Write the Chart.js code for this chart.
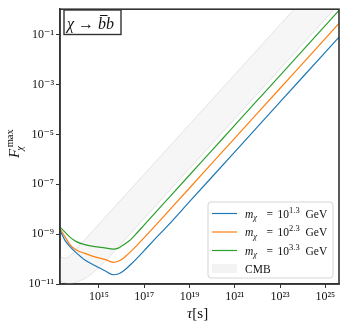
<!DOCTYPE html>
<html><head><meta charset="utf-8">
<script src="https://cdn.jsdelivr.net/npm/chart.js@4/dist/chart.umd.min.js"></script>
<style>html,body{margin:0;padding:0;background:#fff}</style>
</head><body>
<canvas id="c" width="345" height="326" style="width:345px;height:326px;display:block"></canvas>
<script>
// ---- data (log10 values) ----
const logTau = [13.28,13.5,13.72,14.0,14.38,14.82,15.26,15.63,15.85,16.0,16.2,16.4,16.6,17.0,17.5,18,19,20,21,22,23,24,25,25.6];
const logF_m13 = [-8.85,-9.25,-9.5,-9.75,-10.04,-10.26,-10.47,-10.63,-10.6,-10.53,-10.39,-10.22,-10.04,-9.66,-9.17,-8.7,-7.7,-6.7,-5.7,-4.7,-3.7,-2.7,-1.7,-1.1];
const logF_m23 = [-8.79,-9.1,-9.42,-9.64,-9.77,-9.91,-10.01,-10.13,-10.09,-10.02,-9.87,-9.7,-9.52,-9.14,-8.65,-8.15,-7.15,-6.15,-5.15,-4.15,-3.15,-2.15,-1.15,-0.55];
const logF_m33 = [-8.72,-8.92,-9.12,-9.3,-9.42,-9.5,-9.55,-9.6,-9.56,-9.48,-9.36,-9.22,-9.03,-8.63,-8.13,-7.63,-6.63,-5.63,-4.63,-3.63,-2.63,-1.63,-0.63,-0.03];
const massExps = ['1.3','2.3','3.3'];
const seriesColors = ['#1f77b4','#ff7f0e','#2ca02c'];

const cmbLogTau = [13.28,13.5,13.65,13.8,14.0,14.38,14.82,15.26,15.63,16,17,18,19,20,21,22,23,23.6,24,25,25.37,25.6];
const cmbUpper  = [-9.93,-9.96,-9.93,-9.8,-9.6,-9.22,-8.78,-8.34,-7.97,-7.6,-6.6,-5.6,-4.6,-3.6,-2.6,-1.6,-0.6,0,0.4,1.4,1.77,2.0];
const cmbLower  = [-10.88,-10.95,-10.98,-10.97,-10.92,-10.78,-10.48,-10.11,-9.74,-9.37,-8.37,-7.37,-6.37,-5.37,-4.37,-3.37,-2.37,-1.77,-1.37,-0.37,0,0.23];

const xTickExps = [15,17,19,21,23,25];
const yTickExps = [-11,-9,-7,-5,-3,-1];
const xRange = [13.28, 25.6];
const yRange = [-11, 0.02];

// ---- helpers ----
const FAM = "'Liberation Serif','DejaVu Serif',serif";
const SUP = {'0':'⁰','1':'¹','2':'²','3':'³','4':'⁴','5':'⁵','6':'⁶','7':'⁷','8':'⁸','9':'⁹','-':'⁻'};
const sup = s => String(s).split('').map(c => SUP[c] || c).join('');
const pts = (xs, ys) => xs.map((x, i) => ({x: Math.pow(10, x), y: Math.pow(10, ys[i])}));

function drawRuns(ctx, x, y, list) {
  for (const r of list) {
    ctx.font = (r.it ? 'italic ' : '') + r.size + 'px ' + FAM;
    const px = (r.x !== undefined) ? r.x : x;
    ctx.fillText(r.t, px, y + (r.dy || 0));
    x = px + ctx.measureText(r.t).width;
  }
  return x;
}

const series = [logF_m13, logF_m23, logF_m33];
const datasets = series.map((s, i) => ({
  label: 'm = 10^' + massExps[i] + ' GeV',
  data: pts(logTau, s),
  borderColor: seriesColors[i],
  borderWidth: 1.2,
  pointRadius: 0,
  fill: false,
  cubicInterpolationMode: 'monotone'
}));
datasets.push({
  label: 'CMB upper',
  data: pts(cmbLogTau, cmbUpper),
  borderColor: '#e3e3e3', borderWidth: 1, pointRadius: 0, fill: false,
  cubicInterpolationMode: 'monotone'
});
datasets.push({
  label: 'CMB',
  data: pts(cmbLogTau, cmbLower),
  borderColor: '#e3e3e3', borderWidth: 1, pointRadius: 0,
  backgroundColor: '#f6f6f6', fill: '-1',
  cubicInterpolationMode: 'monotone'
});

const decor = {
  id: 'decor',
  afterDraw(chart) {
    const ctx = chart.ctx, a = chart.chartArea;
    ctx.save();
    // frame
    ctx.strokeStyle = '#333'; ctx.lineWidth = 1.6;
    ctx.strokeRect(a.left, a.top, a.right - a.left, a.bottom - a.top);
    ctx.fillStyle = '#111';
    ctx.textBaseline = 'alphabetic';
    ctx.textAlign = 'left';
    // x title: tau [s]
    drawRuns(ctx, 187, 318, [{t:'τ', it:true, size:15}, {t:'[s]', size:15}]);
    // y title: F_chi^max (rotated)
    ctx.save();
    ctx.translate(19, 158);
    ctx.rotate(-Math.PI / 2);
    ctx.font = 'italic 15px ' + FAM;
    const wF = ctx.measureText('F').width;
    drawRuns(ctx, 0, 0, [{t:'F', it:true, size:15}]);
    drawRuns(ctx, wF + 1.5, -6.5, [{t:'max', size:10.5}]);
    drawRuns(ctx, wF - 2, 3.5, [{t:'χ', it:true, size:10.5}]);
    ctx.restore();
    // annotation box
    ctx.fillStyle = '#fff';
    ctx.fillRect(64, 10, 57, 24.5);
    ctx.strokeStyle = '#333'; ctx.lineWidth = 1.4;
    ctx.strokeRect(64, 10, 57, 24.5);
    ctx.fillStyle = '#111';
    const xb = drawRuns(ctx, 67, 28.5, [{t:'χ', it:true, size:16}, {t:' → ', size:16}]);
    ctx.font = 'italic 16px ' + FAM;
    const wb = ctx.measureText('b').width;
    drawRuns(ctx, xb, 28.5, [{t:'bb', it:true, size:16}]);
    ctx.strokeStyle = '#111'; ctx.lineWidth = 1;
    ctx.beginPath(); ctx.moveTo(xb + 2, 15.5); ctx.lineTo(xb + wb + 1.5, 15.5); ctx.stroke();
    // legend
    const L = 208, T = 202, R = 333, B = 278, rad = 3;
    ctx.beginPath();
    ctx.moveTo(L + rad, T); ctx.lineTo(R - rad, T); ctx.quadraticCurveTo(R, T, R, T + rad);
    ctx.lineTo(R, B - rad); ctx.quadraticCurveTo(R, B, R - rad, B);
    ctx.lineTo(L + rad, B); ctx.quadraticCurveTo(L, B, L, B - rad);
    ctx.lineTo(L, T + rad); ctx.quadraticCurveTo(L, T, L + rad, T); ctx.closePath();
    ctx.fillStyle = 'rgba(255,255,255,0.85)'; ctx.fill();
    ctx.strokeStyle = '#d5d5d5'; ctx.lineWidth = 1; ctx.stroke();
    const rows = [213.5, 232, 250.5];
    rows.forEach((yy, i) => {
      ctx.strokeStyle = seriesColors[i]; ctx.lineWidth = 1.2;
      ctx.beginPath(); ctx.moveTo(212, yy); ctx.lineTo(237, yy); ctx.stroke();
      ctx.fillStyle = '#111';
      drawRuns(ctx, 245, yy + 4, [
        {t:'m', it:true, size:11.5},
        {t:'χ', it:true, size:8.5, dy:2.5},
        {t:'=', size:11.5, x:266.5},
        {t:'10', size:11.5, x:277.5},
        {t:massExps[i], size:8.5, dy:-5},
        {t:'GeV', size:11.5, x:305.5}
      ]);
    });
    ctx.fillStyle = '#f3f3f3';
    ctx.fillRect(212, 264, 25, 9);
    ctx.fillStyle = '#111';
    drawRuns(ctx, 245, 273, [{t:'CMB', size:11.5}]);
    ctx.restore();
  }
};

new Chart(document.getElementById('c'), {
  type: 'line',
  data: { datasets },
  options: {
    responsive: false,
    animation: false,
    devicePixelRatio: 1,
    layout: { padding: { left: 0, top: 6, right: 6, bottom: 0 } },
    plugins: { legend: { display: false }, tooltip: { enabled: false } },
    scales: {
      x: {
        type: 'logarithmic',
        min: Math.pow(10, xRange[0]), max: Math.pow(10, xRange[1]),
        afterBuildTicks: s => { s.ticks = xTickExps.map(e => ({value: Math.pow(10, e)})); },
        afterFit: s => { s.height = 42; },
        ticks: {
          autoSkip: false, maxRotation: 0, padding: 2, color: '#111',
          font: { family: FAM, size: 12 },
          callback: v => '10' + sup(Math.round(Math.log10(v)))
        },
        grid: { display: true, drawOnChartArea: false, drawTicks: true, tickLength: 4, color: '#333', lineWidth: 1 },
        border: { display: true, color: '#333', width: 1.5 }
      },
      y: {
        type: 'logarithmic',
        min: Math.pow(10, yRange[0]), max: Math.pow(10, yRange[1]),
        afterBuildTicks: s => { s.ticks = yTickExps.map(e => ({value: Math.pow(10, e)})); },
        afterFit: s => { s.width = 60; },
        ticks: {
          autoSkip: false, padding: 2, color: '#111',
          font: { family: FAM, size: 12 },
          callback: v => '10' + sup(Math.round(Math.log10(v)))
        },
        grid: { display: true, drawOnChartArea: false, drawTicks: true, tickLength: 4, color: '#333', lineWidth: 1 },
        border: { display: true, color: '#333', width: 1.5 }
      }
    }
  },
  plugins: [decor]
});
</script>
</body></html>
